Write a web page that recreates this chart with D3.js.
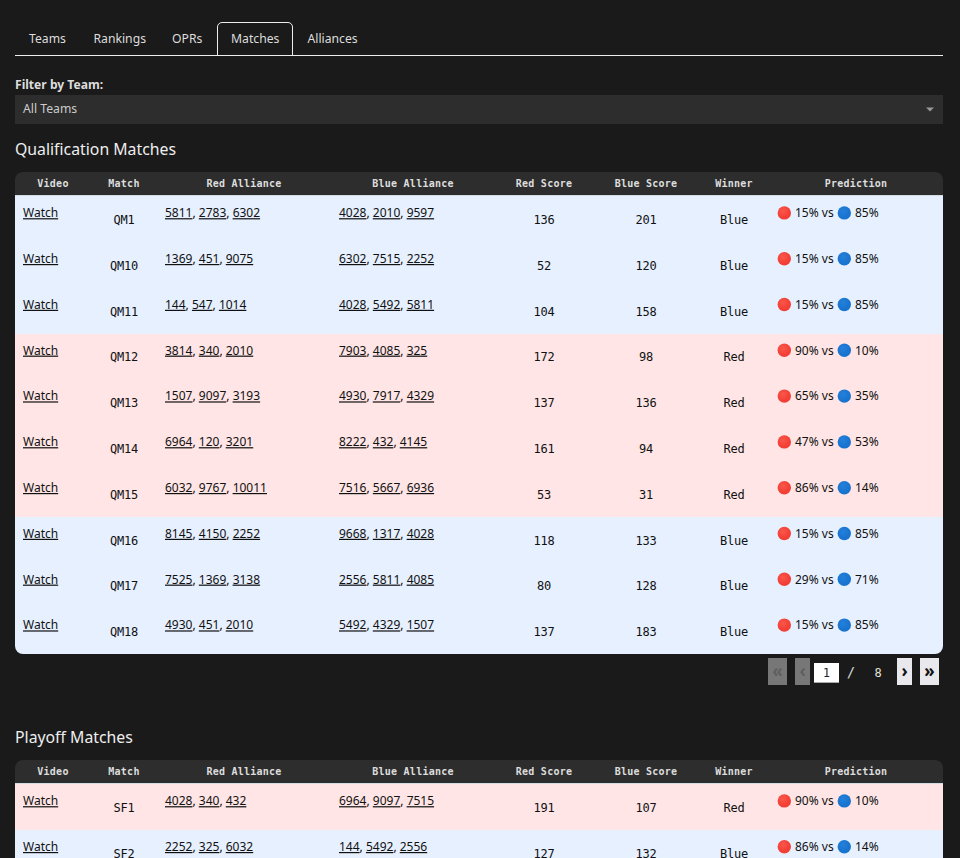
<!DOCTYPE html>
<html>
<head>
<meta charset="utf-8">
<style>
  html, body { margin: 0; background: #1a1a1a; overflow: hidden; }
  text { font-family: "Noto Sans", sans-serif; }
  .mono { font-family: "DejaVu Sans Mono", monospace; }
</style>
<script src="https://cdn.jsdelivr.net/npm/d3@7"></script>
</head>
<body>
<div id="chart"></div>
<script>
const tabs = ["Teams", "Rankings", "OPRs", "Matches", "Alliances"];
const columns = ["Video", "Match", "Red Alliance", "Blue Alliance", "Red Score", "Blue Score", "Winner", "Prediction"];

const qualMatches = ["QM1", "QM10", "QM11", "QM12", "QM13", "QM14", "QM15", "QM16", "QM17", "QM18"];
const qualRed = [[5811, 2783, 6302], [1369, 451, 9075], [144, 547, 1014], [3814, 340, 2010], [1507, 9097, 3193], [6964, 120, 3201], [6032, 9767, 10011], [8145, 4150, 2252], [7525, 1369, 3138], [4930, 451, 2010]];
const qualBlue = [[4028, 2010, 9597], [6302, 7515, 2252], [4028, 5492, 5811], [7903, 4085, 325], [4930, 7917, 4329], [8222, 432, 4145], [7516, 5667, 6936], [9668, 1317, 4028], [2556, 5811, 4085], [5492, 4329, 1507]];
const qualRedScore = [136, 52, 104, 172, 137, 161, 53, 118, 80, 137];
const qualBlueScore = [201, 120, 158, 98, 136, 94, 31, 133, 128, 183];
const qualWinner = ["Blue", "Blue", "Blue", "Red", "Red", "Red", "Red", "Blue", "Blue", "Blue"];
const qualRedPct = [15, 15, 15, 90, 65, 47, 86, 15, 29, 15];
const qualBluePct = [85, 85, 85, 10, 35, 53, 14, 85, 71, 85];

const playoffMatches = ["SF1", "SF2"];
const playoffRed = [[4028, 340, 432], [2252, 325, 6032]];
const playoffBlue = [[6964, 9097, 7515], [144, 5492, 2556]];
const playoffRedScore = [191, 127];
const playoffBlueScore = [107, 132];
const playoffWinner = ["Red", "Blue"];
const playoffRedPct = [90, 86];
const playoffBluePct = [10, 14];

const width = 960, height = 858;
const svg = d3.select("#chart").append("svg").attr("width", width).attr("height", height).style("display", "block");

const defs = svg.append("defs");
[["dotRed", "#f9574b", "#f33f35"], ["dotBlue", "#2580dc", "#1974d0"]].forEach(([id, a, b]) => {
  const g = defs.append("radialGradient").attr("id", id).attr("cx", "40%").attr("cy", "35%");
  g.append("stop").attr("offset", "0%").attr("stop-color", a);
  g.append("stop").attr("offset", "100%").attr("stop-color", b);
});

// tabs
const tabX = d3.scaleOrdinal().domain(tabs).range([29, 93.5, 172, 231, 307.5]);
svg.append("line").attr("x1", 15).attr("x2", 943).attr("y1", 55.5).attr("y2", 55.5).attr("stroke", "#eee");
svg.append("path")
  .attr("d", "M217.5,55V27a4.5,4.5 0 0 1 4.5,-4.5H288a4.5,4.5 0 0 1 4.5,4.5V55")
  .attr("fill", "none").attr("stroke", "#eee");
svg.selectAll(".tab").data(tabs).join("text").attr("class", "tab")
  .attr("x", d => tabX(d)).attr("y", 43).attr("fill", "#ddd").attr("font-size", 12.2).text(d => d);

// filter
svg.append("text").attr("x", 15).attr("y", 89).attr("fill", "#ddd").attr("font-size", 12.1).attr("font-weight", 700).text("Filter by Team:");
svg.append("rect").attr("x", 15).attr("y", 95).attr("width", 928).attr("height", 29).attr("fill", "#2d2d2d");
svg.append("text").attr("x", 23).attr("y", 113).attr("fill", "#ccc").attr("font-size", 12.2).text("All Teams");
svg.append("path").attr("d", "M926,107.5h8l-4,4z").attr("fill", "#999");

// column anchors, shared by both tables
const colX = d3.scaleOrdinal().domain(columns).range([53, 124, 244, 413, 544, 646, 734, 856]);
const cellX = d3.scaleOrdinal().domain(columns).range([23, 124, 165, 339, 544, 646, 734, 777]);

function drawTable(opts) {
  const { title, titleY, top, matches, red, blue, redScore, blueScore, winner, redPct, bluePct, bottom, clipBottom, clipId } = opts;
  svg.append("text").attr("x", 15).attr("y", titleY).attr("fill", "#eee").attr("font-size", 15.8).text(title);

  const rowY = d3.scaleBand().domain(matches).range([top + 24.3, bottom]);
  const g = svg.append("g");

  defs.append("clipPath").attr("id", clipId).append("rect")
    .attr("x", 15).attr("y", top).attr("width", 928).attr("height", clipBottom - top).attr("rx", 8);
  const body = g.append("g").attr("clip-path", `url(#${clipId})`);
  body.append("rect").attr("x", 15).attr("y", top).attr("width", 928).attr("height", 23).attr("fill", "#2d2d2d");
  body.append("rect").attr("x", 15).attr("y", top + 23).attr("width", 928).attr("height", 1).attr("fill", "#d5dbe3");

  g.selectAll(".head").data(columns).join("text").attr("class", "head mono")
    .attr("x", d => colX(d)).attr("y", top + 15).attr("text-anchor", "middle")
    .attr("fill", "#ddd").attr("font-size", 10).attr("font-weight", 700).attr("letter-spacing", 0.25).text(d => d);

  const rows = matches.map((m, i) => ({ m, i }));
  body.selectAll(".row").data(rows).join("rect").attr("class", "row")
    .attr("x", 15).attr("width", 928)
    .attr("y", d => rowY(d.m)).attr("height", rowY.bandwidth() + 0.5)
    .attr("shape-rendering", "crispEdges")
    .attr("fill", d => winner[d.i] === "Red" ? "#ffe5e5" : "#e6f0ff");

  const row = g.selectAll(".cells").data(rows).join("g").attr("class", "cells")
    .attr("transform", d => `translate(0,${rowY(d.m)})`);

  row.append("text").attr("x", cellX("Video")).attr("y", 20.9).attr("font-size", 12)
    .attr("fill", "#111").attr("text-decoration", "underline").text("Watch");

  const mono = (col, val) => row.append("text").attr("class", "mono")
    .attr("x", cellX(col)).attr("y", 27.7).attr("text-anchor", "middle")
    .attr("font-size", 12).attr("letter-spacing", -0.2).attr("fill", "#111").text(d => val(d));
  mono("Match", d => d.m);
  mono("Red Score", d => redScore[d.i]);
  mono("Blue Score", d => blueScore[d.i]);
  mono("Winner", d => winner[d.i]);

  const teams = (col, list) => {
    const t = row.append("text").attr("x", cellX(col)).attr("y", 20.9).attr("font-size", 12).attr("fill", "#111");
    t.each(function (d) {
      const sel = d3.select(this);
      list[d.i].forEach((team, k) => {
        if (k > 0) sel.append("tspan").text(", ");
        sel.append("tspan").attr("text-decoration", "underline").text(team);
      });
    });
  };
  teams("Red Alliance", red);
  teams("Blue Alliance", blue);

  const px = cellX("Prediction");
  row.append("circle").attr("cx", px + 7.3).attr("cy", 16.6).attr("r", 6.7).attr("fill", "url(#dotRed)");
  row.append("text").attr("x", px + 18).attr("y", 20.9).attr("font-size", 12).attr("fill", "#111")
    .text(d => `${redPct[d.i]}% vs`);
  row.append("circle").attr("cx", px + 67.3).attr("cy", 16.6).attr("r", 6.7).attr("fill", "url(#dotBlue)");
  row.append("text").attr("x", px + 78).attr("y", 20.9).attr("font-size", 12).attr("fill", "#111")
    .text(d => `${bluePct[d.i]}%`);
}

drawTable({
  title: "Qualification Matches", titleY: 155, top: 172, bottom: 654.3, clipBottom: 654, clipId: "clipQual",
  matches: qualMatches, red: qualRed, blue: qualBlue, redScore: qualRedScore, blueScore: qualBlueScore,
  winner: qualWinner, redPct: qualRedPct, bluePct: qualBluePct
});

// second table runs past the window, so the band range is extended
drawTable({
  title: "Playoff Matches", titleY: 743, top: 760, bottom: 875.9, clipBottom: 890, clipId: "clipPlayoff",
  matches: playoffMatches, red: playoffRed, blue: playoffBlue, redScore: playoffRedScore, blueScore: playoffBlueScore,
  winner: playoffWinner, redPct: playoffRedPct, bluePct: playoffBluePct
});

// pagination
const pager = [["«", 768, 19, false], ["‹", 795, 15, false], ["›", 897, 15, true], ["»", 920, 19, true]];
svg.selectAll(".pg").data(pager).join("rect").attr("class", "pg")
  .attr("x", d => d[1]).attr("y", 658).attr("width", d => d[2]).attr("height", 27)
  .attr("fill", d => d[3] ? "#e9e9ed" : "#777");
svg.selectAll(".pgt").data(pager).join("text").attr("class", "pgt")
  .attr("x", d => d[1] + d[2] / 2).attr("y", 677).attr("text-anchor", "middle")
  .attr("font-size", 17).attr("font-weight", 700)
  .attr("fill", d => d[3] ? "#111" : "#5f5f5f").text(d => d[0]);
svg.append("rect").attr("x", 814).attr("y", 663).attr("width", 25).attr("height", 20).attr("fill", "#fff");
svg.append("rect").attr("x", 814).attr("y", 682).attr("width", 25).attr("height", 1).attr("fill", "#aaa");
svg.append("text").attr("class", "mono").attr("x", 826.5).attr("y", 676.5).attr("text-anchor", "middle")
  .attr("font-size", 11.5).attr("fill", "#222").text("1");
svg.append("text").attr("class", "mono").attr("x", 851).attr("y", 677).attr("text-anchor", "middle")
  .attr("font-size", 14).attr("fill", "#d8d8d8").text("/");
svg.append("text").attr("class", "mono").attr("x", 878).attr("y", 676.5).attr("text-anchor", "middle")
  .attr("font-size", 12).attr("fill", "#e6e0d6").text("8");
</script>
</body>
</html>
